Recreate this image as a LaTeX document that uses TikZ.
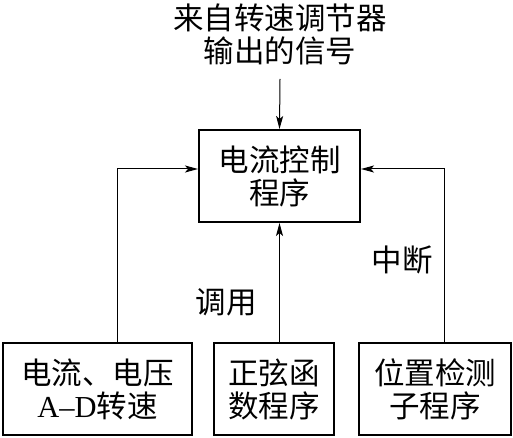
\documentclass[tikz,border=0pt]{standalone}
\usepackage{fontspec}
\setmainfont{Liberation Serif}
\newfontfamily\cjk{Noto Sans CJK SC}
\usetikzlibrary{arrows.meta}
\begin{document}
\begin{tikzpicture}[x=1pt,y=-1pt,
  box/.style={draw,line width=2pt,inner sep=0pt,align=center,
    font=\cjk\fontsize{30.5}{33}\selectfont},
  lbl/.style={inner sep=0pt,align=center,font=\cjk\fontsize{30.5}{33}\selectfont},
  conn/.style={line width=1pt,-{Stealth[length=13pt,width=7pt,inset=3pt]}}]
\useasboundingbox (0,0) rectangle (513,438);
\node[lbl] (src) at (280,34) {来自转速调节器\\输出的信号};
\node[box,minimum width=161pt,minimum height=92pt] (ctrl) at (279.5,176) {电流控制\\程序};
\node[box,minimum width=189pt,minimum height=92pt] (left) at (97.5,389) {电流、电压\\{\rmfamily A–D}转速};
\node[box,minimum width=120pt,minimum height=92pt] (mid) at (274,389) {正弦函\\数程序};
\node[box,minimum width=152pt,minimum height=92pt] (right) at (435,389) {位置检测\\子程序};
\node[lbl] (call) at (226,302) {调用};
\node[lbl] (intr) at (402,260) {中断};
\coordinate (top) at (280,79);
\coordinate (lt) at (117,169);
\coordinate (rt) at (444,169);
\draw[conn] (top) -- (ctrl.north);
\draw[conn] (mid.north -| ctrl.south) -- (ctrl.south);
\draw[conn] (left.north -| lt) -- (lt) -- (lt -| ctrl.west);
\draw[conn] (right.north -| rt) -- (rt) -- (rt -| ctrl.east);
\end{tikzpicture}
\end{document}
